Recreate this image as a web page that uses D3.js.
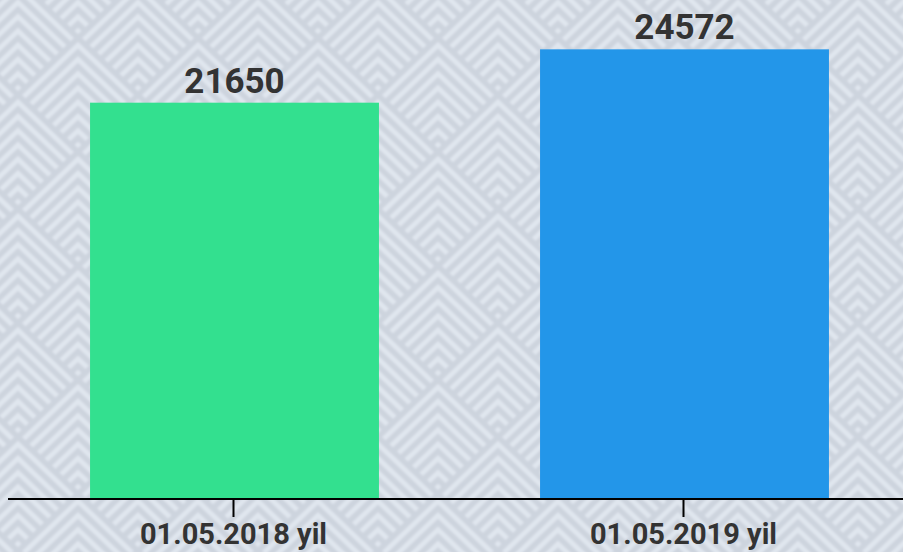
<!DOCTYPE html>
<html>
<head>
<meta charset="utf-8">
<script src="https://cdn.jsdelivr.net/npm/d3@7/dist/d3.min.js"></script>
<style>
  html, body { margin: 0; padding: 0; background: #dfe5ed; }
  svg { display: block; }
</style>
</head>
<body>
<svg id="chart" width="903" height="552"></svg>
<script>
const categories = ["01.05.2018 yil", "01.05.2019 yil"];
const values = [21650, 24572];
const barColors = ["#33e08f", "#2396e9"];

const W = 903, H = 552;
const svg = d3.select("#chart");

// background pattern of nested chevrons in diamond tiles
const PW = 120, PH = 114, step = 14.25;
const defs = svg.append("defs");
const pat = defs.append("pattern")
  .attr("id", "bg").attr("patternUnits", "userSpaceOnUse")
  .attr("x", 18).attr("y", 38).attr("width", PW).attr("height", PH);
pat.append("rect").attr("width", PW).attr("height", PH).attr("fill", "#e0e6ee");
const centers = [[PW/2, PH/2], [0, 0], [PW, 0], [0, PH], [PW, PH]];
const w = PW/2, h = PH/2;
const pg = pat.append("g").attr("fill", "none").attr("stroke", "#cdd4de").attr("stroke-width", 5.5);
centers.forEach(([cx, cy]) => {
  for (let d = 0; d < 2*h - 2; d += step) {
    const ay = cy - h + d;
    const lx = cx - w + w*d/(2*h), ly = cy + d/2;
    const rx = cx + w - w*d/(2*h);
    pg.append("path").attr("d", `M${lx},${ly}L${cx},${ay}L${rx},${ly}`);
  }
});
const blur = defs.append("filter").attr("id", "soft")
  .attr("x", "-5%").attr("y", "-5%").attr("width", "110%").attr("height", "110%");
blur.append("feGaussianBlur").attr("stdDeviation", 1.3);
svg.append("rect").attr("x", -20).attr("y", -20).attr("width", W + 40).attr("height", H + 40)
  .attr("fill", "url(#bg)").attr("filter", "url(#soft)");

const x = d3.scaleBand().domain(categories).range([9.5, 909.5])
  .paddingInner(0.358).paddingOuter(0.179);
const y = d3.scaleLinear().domain([0, 27000]).range([498, 5]);

svg.selectAll("rect.bar").data(values).join("rect")
  .attr("class", "bar")
  .attr("x", (d, i) => x(categories[i]))
  .attr("width", x.bandwidth())
  .attr("y", d => y(d))
  .attr("height", d => y(0) - y(d))
  .attr("fill", (d, i) => barColors[i]);

svg.selectAll("text.val").data(values).join("text")
  .attr("class", "val")
  .attr("x", (d, i) => x(categories[i]) + x.bandwidth()/2)
  .attr("y", d => y(d) - 10)
  .attr("text-anchor", "middle")
  .attr("font-family", "Roboto, sans-serif")
  .attr("font-weight", "bold")
  .attr("font-size", 35)
  .attr("fill", "#333333")
  .text(d => d);

// axis
const axisG = svg.append("g").attr("transform", "translate(0,499)");
axisG.append("line").attr("x1", 8).attr("x2", W).attr("y1", 0).attr("y2", 0)
  .attr("stroke", "#000").attr("stroke-width", 2);
const ticks = axisG.selectAll("g.tick").data(categories).join("g")
  .attr("class", "tick")
  .attr("transform", d => `translate(${x(d) + x.bandwidth()/2 - 1},0)`);
ticks.append("line").attr("y1", 0).attr("y2", 18).attr("stroke", "#000").attr("stroke-width", 2);
ticks.append("text").attr("y", 45).attr("text-anchor", "middle")
  .attr("font-family", "Roboto, sans-serif").attr("font-weight", "bold")
  .attr("font-size", 29).attr("fill", "#333333")
  .text(d => d);
</script>
</body>
</html>
